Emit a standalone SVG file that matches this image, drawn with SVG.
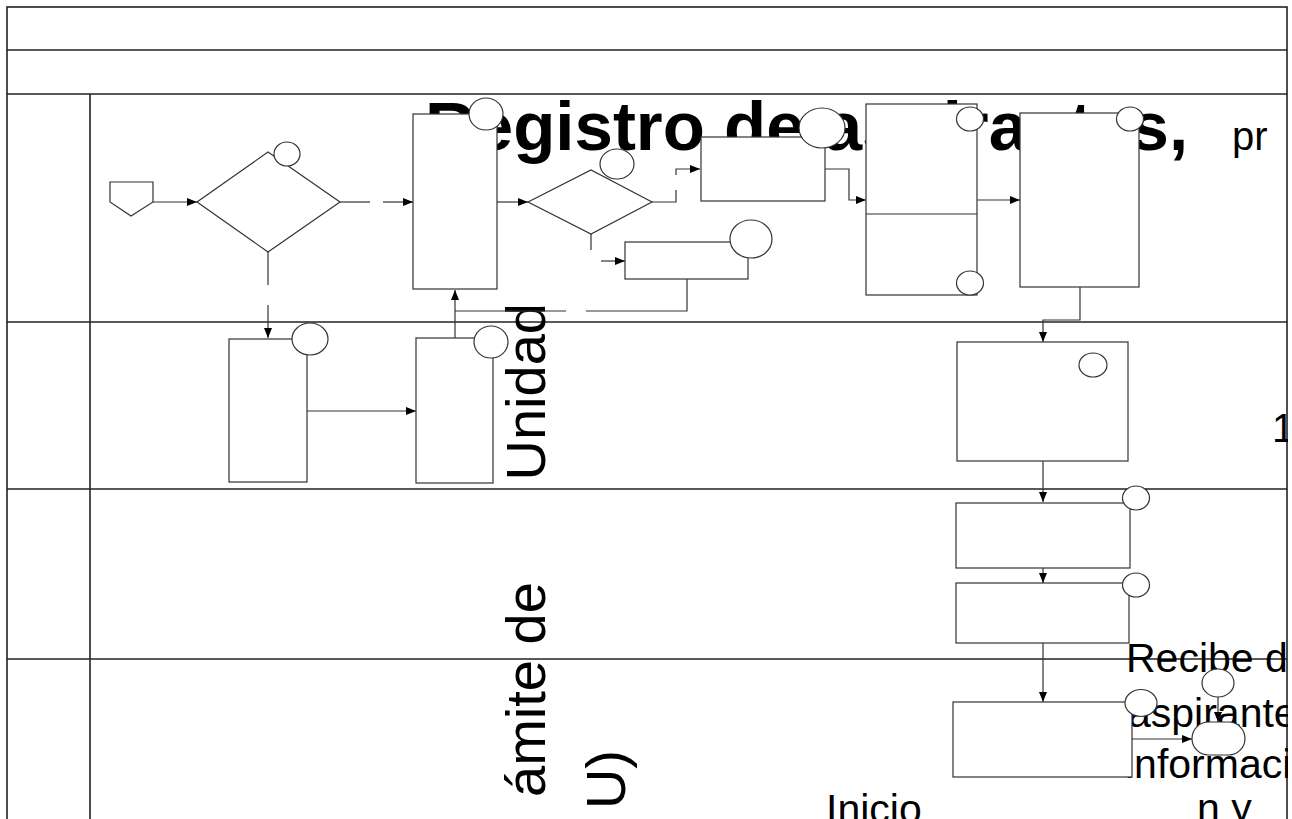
<svg xmlns="http://www.w3.org/2000/svg" width="1292" height="819" viewBox="0 0 1292 819">
<defs>
<style>
.frame{fill:none;stroke:#222;stroke-width:1.6}
.shape{fill:#fff;stroke:#333;stroke-width:1.2}
.conn{fill:none;stroke:#333;stroke-width:1.2}
.arr{marker-end:url(#ah)}
text{font-family:"Liberation Sans",Arial,sans-serif;fill:#000}
.big{font-size:41px}
.vert{font-size:56px}
</style>
<marker id="ah" markerUnits="userSpaceOnUse" markerWidth="10" markerHeight="8" refX="10" refY="4" orient="auto">
<path d="M0,0 L10,4 L0,8 z" fill="#000"/>
</marker>
<clipPath id="page"><rect x="0" y="0" width="1288" height="819"/></clipPath>
</defs>
<rect width="1292" height="819" fill="#fff"/>
<g id="frame">
<rect class="frame" x="7" y="7" width="1280" height="830"/>
<line class="frame" x1="7" y1="50" x2="1287" y2="50"/>
<line class="frame" x1="7" y1="94" x2="1287" y2="94"/>
<line class="frame" x1="90" y1="94" x2="90" y2="819"/>
<line class="frame" x1="7" y1="322" x2="1287" y2="322"/>
<line class="frame" x1="7" y1="489" x2="1287" y2="489"/>
<line class="frame" x1="7" y1="659" x2="1287" y2="659"/>
</g>
<g id="texts" clip-path="url(#page)">
<text x="425" y="150" font-size="69" font-weight="bold">Registro de aspirantes,</text>
<text x="1232" y="150" font-size="40">pr</text>
<text class="vert" transform="translate(545,797) rotate(-90)">ámite de</text>
<text class="vert" transform="translate(545,303) rotate(-90)" text-anchor="end">Unidad</text>
<text class="vert" transform="translate(625,750) rotate(-90)" text-anchor="end">U)</text>
<text x="1272" y="442" font-size="40">1</text>
<text x="1126" y="672" class="big">Recibe de</text>
<text x="1128" y="727" class="big">aspirante</text>
<text x="1125" y="778" class="big">informaci</text>
<text x="1197" y="822" class="big">n y</text>
<text x="826" y="823" font-size="41">Inicio</text>
</g>
<g id="connectors">
<path class="conn arr" d="M153,202 H197"/>
<path class="conn" d="M340,202 H370"/>
<path class="conn arr" d="M383,202 H413"/>
<path class="conn" d="M268,252 V285"/>
<path class="conn arr" d="M268,305 V338"/>
<path class="conn arr" d="M497,202 H528"/>
<path class="conn" d="M652,202 H676 V190"/>
<path class="conn arr" d="M676,175 V169 H700"/>
<path class="conn" d="M591,234 V250"/>
<path class="conn arr" d="M601,261 H625"/>
<path class="conn arr" d="M825,169 H849 V200 H866"/>
<path class="conn arr" d="M977,200 H1020"/>
<path class="conn arr" d="M1080,287 V320 H1043 V342"/>
<path class="conn arr" d="M307,411 H416"/>
<path class="conn" d="M687,279 V311 H586"/>
<path class="conn" d="M566,311 H455"/>
<path class="conn arr" d="M455,338 V290"/>
<path class="conn arr" d="M1043,461 V502"/>
<path class="conn arr" d="M1043,568 V583"/>
<path class="conn arr" d="M1043,643 V702"/>
<path class="conn arr" d="M1132,739 H1192"/>
<path class="conn arr" d="M1218,697 V722"/>
</g>
<g id="n-start"><polygon class="shape" points="110,182 153,182 153,202 131,216 110,202"/></g>
<g id="n-dec1"><polygon class="shape" points="197,202 268,152 340,202 268,252"/><ellipse class="shape" cx="287" cy="154" rx="13" ry="12"/></g>
<g id="n-boxA"><rect class="shape" x="413" y="114" width="84" height="175"/><ellipse class="shape" cx="486" cy="114" rx="17" ry="16"/></g>
<g id="n-dec2"><polygon class="shape" points="528,202 591,170 652,202 591,234"/><ellipse class="shape" cx="617" cy="164" rx="17" ry="15"/></g>
<g id="n-boxB"><rect class="shape" x="701" y="137" width="124" height="64"/><ellipse class="shape" cx="822" cy="128" rx="23" ry="20"/></g>
<g id="n-boxSmall"><rect class="shape" x="625" y="242" width="123" height="37"/><ellipse class="shape" cx="751" cy="239" rx="21" ry="19"/></g>
<g id="n-boxC"><rect class="shape" x="866" y="104" width="111" height="191"/><line class="conn" x1="866" y1="214" x2="977" y2="214"/><ellipse class="shape" cx="970" cy="119" rx="13.5" ry="12"/><ellipse class="shape" cx="970" cy="283" rx="13.5" ry="12"/></g>
<g id="n-boxE"><rect class="shape" x="1020" y="113" width="119" height="174"/><ellipse class="shape" cx="1130" cy="119" rx="13.5" ry="12"/></g>
<g id="n-boxD1"><rect class="shape" x="229" y="339" width="78" height="143"/><ellipse class="shape" cx="310" cy="339" rx="18" ry="16"/></g>
<g id="n-boxD2"><rect class="shape" x="416" y="338" width="77" height="145"/><ellipse class="shape" cx="491" cy="342" rx="17" ry="16"/></g>
<g id="n-boxF"><rect class="shape" x="957" y="342" width="171" height="119"/><ellipse class="shape" cx="1093" cy="365" rx="14" ry="12"/></g>
<g id="n-boxG"><rect class="shape" x="956" y="503" width="174" height="65"/><ellipse class="shape" cx="1136" cy="498" rx="13.5" ry="12"/></g>
<g id="n-boxH"><rect class="shape" x="956" y="583" width="173" height="60"/><ellipse class="shape" cx="1136" cy="585" rx="13.5" ry="12"/></g>
<g id="n-boxI"><rect class="shape" x="953" y="702" width="179" height="75"/><ellipse class="shape" cx="1141" cy="703" rx="16" ry="13.5"/></g>
<g id="n-end"><rect class="shape" x="1192" y="722" width="53" height="33" rx="16.5" ry="16.5"/><ellipse class="shape" cx="1218" cy="683" rx="16" ry="14"/></g>
</svg>
